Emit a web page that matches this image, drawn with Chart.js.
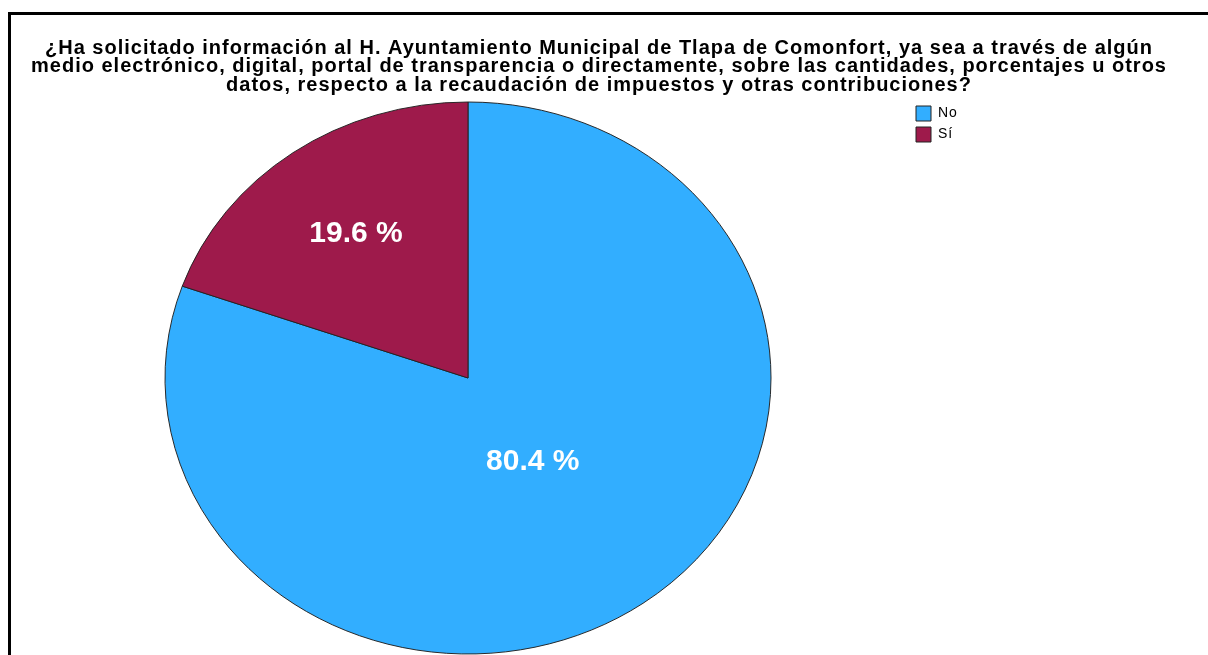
<!DOCTYPE html>
<html lang="es">
<head>
<meta charset="utf-8">
<title>Solicitud de información – recaudación</title>
<script src="https://cdn.jsdelivr.net/npm/chart.js@4.4.1/dist/chart.umd.min.js"></script>
<style>
    html, body { margin: 0; padding: 0; background: #fff; overflow: hidden; }
    #wrap { position: relative; width: 1208px; height: 655px; }
    #frame { position: absolute; left: 8px; top: 12px; width: 1300px; height: 800px; border: 3px solid #000; }
    #chartWrap { position: absolute; left: 0; top: 0; width: 1208px; height: 655px; }
</style>
</head>
<body>
<div id="wrap">
    <div id="frame"></div>
    <div id="chartWrap"><canvas id="chartSolicitud"></canvas></div>
</div>
<script>
// ── Data ─────────────────────────────────
const categories = ['No', 'Sí'];
const percents = [80.4, 19.6];
const sliceColors = ['#32aeff', '#9e1a4b'];
const titleLines = [
    '¿Ha solicitado información al H. Ayuntamiento Municipal de Tlapa de Comonfort, ya sea a través de algún',
    'medio electrónico, digital, portal de transparencia o directamente, sobre las cantidades, porcentajes u otros',
    'datos, respecto a la recaudación de impuestos y otras contribuciones?'
];

// pie geometry (SPSS draws it slightly squashed)
const PIE_CX = 468, PIE_CY = 378, PIE_R = 303, PIE_SY = 276 / 303;
// how far out each value label sits, as a share of the radius
const labelRadius = [0.37, 0.64];
// legend block sits just right of the pie
const LEGEND_X = 910, LEGEND_Y = 100;

Chart.defaults.font.family = "'Liberation Sans', Arial, sans-serif";
Chart.defaults.color = '#000';

const spssLook = {
    id: 'spssLook',
    afterLayout(chart) {
        // move the legend next to the pie instead of the far right edge
        const lg = chart.legend;
        const w = lg.width, h = lg.height;
        lg.left = LEGEND_X; lg.right = LEGEND_X + w;
        lg.top = LEGEND_Y; lg.bottom = LEGEND_Y + h;
    },
    beforeDraw(chart) {
        // the SPSS title font is a little spaced out
        chart.ctx.letterSpacing = '1px';
    },
    beforeDatasetsDraw(chart) {
        const ctx = chart.ctx;
        ctx.letterSpacing = '0px';
        // squash the pie into an ellipse and move it to its place
        const arc = chart.getDatasetMeta(0).data[0];
        ctx.save();
        ctx.translate(PIE_CX, PIE_CY);
        ctx.scale(1, PIE_SY);
        ctx.translate(-arc.x, -arc.y);
    },
    afterDatasetsDraw(chart) {
        const ctx = chart.ctx;
        ctx.restore();
        // percentage labels inside the slices
        const meta = chart.getDatasetMeta(0);
        ctx.save();
        ctx.font = "bold 30px 'Liberation Sans', Arial, sans-serif";
        ctx.fillStyle = '#fff';
        ctx.textAlign = 'center';
        ctx.textBaseline = 'middle';
        meta.data.forEach((arc, i) => {
            const mid = (arc.startAngle + arc.endAngle) / 2;
            const r = arc.outerRadius * labelRadius[i];
            const x = PIE_CX + Math.cos(mid) * r;
            const y = PIE_CY + Math.sin(mid) * r * PIE_SY;
            ctx.fillText(percents[i].toFixed(1) + ' %', x, y);
        });
        ctx.restore();
    }
};

const chartSolicitud = new Chart(document.getElementById('chartSolicitud'), {
    type: 'pie',
    data: {
        labels: categories,
        datasets: [{
            data: percents,
            backgroundColor: sliceColors,
            borderColor: '#222',
            borderWidth: 1,
            radius: PIE_R,
            clip: false
        }]
    },
    options: {
        responsive: true, maintainAspectRatio: false, animation: false,
        layout: { padding: { top: 0, left: 15, right: 25, bottom: 0 } },
        plugins: {
            title: {
                display: true,
                text: titleLines,
                color: '#000',
                font: { size: 20, weight: 'bold', lineHeight: 0.925 },
                padding: { top: 39, bottom: 6 }
            },
            legend: {
                position: 'right', align: 'start', fullSize: false,
                labels: { boxWidth: 15, boxHeight: 15, padding: 6, color: '#000', font: { size: 14 } }
            },
            tooltip: { enabled: false }
        }
    },
    plugins: [spssLook]
});
</script>
</body>
</html>
